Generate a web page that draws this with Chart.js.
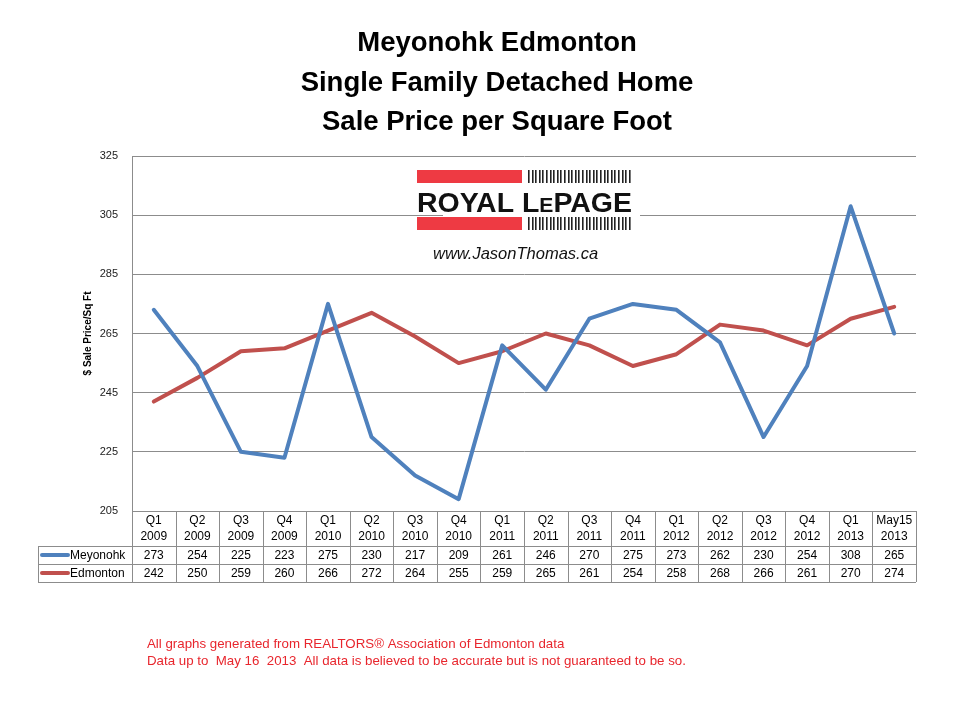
<!DOCTYPE html>
<html>
<head>
<meta charset="utf-8">
<script src="https://cdn.jsdelivr.net/npm/chart.js@4/dist/chart.umd.min.js"></script>
<style>
html,body{margin:0;padding:0;background:#fff;}
#wrap{width:960px;height:720px;position:relative;}
</style>
</head>
<body>
<div id="wrap"><canvas id="c" width="960" height="720"></canvas></div>
<script>
const quarterLabels = ["Q1","Q2","Q3","Q4","Q1","Q2","Q3","Q4","Q1","Q2","Q3","Q4","Q1","Q2","Q3","Q4","Q1","May15"];
const yearLabels = ["2009","2009","2009","2009","2010","2010","2010","2010","2011","2011","2011","2011","2012","2012","2012","2012","2013","2013"];
const meyonohk = [273,254,225,223,275,230,217,209,261,246,270,275,273,262,230,254,308,265];
const edmonton = [242,250,259,260,266,272,264,255,259,265,261,254,258,268,266,261,270,274];
const seriesNames = ["Meyonohk","Edmonton"];
const titleLines = ["Meyonohk Edmonton","Single Family Detached Home","Sale Price per Square Foot"];
const footerLines = ["All graphs generated from REALTORS\u00ae Association of Edmonton data","Data up to  May 16  2013  All data is believed to be accurate but is not guaranteed to be so."];
const yTitle = "$ Sale Price/Sq Ft";

const BLUE = "#4f81bd", RED = "#c0504d";
const labels = quarterLabels.map((q,i)=>[q, yearLabels[i]]);

const decorPlugin = {
  id: "decor",
  beforeDatasetsDraw(chart){
    const ctx = chart.ctx;
    ctx.save();
    ctx.fillStyle = "#fff";
    ctx.fillRect(443, 165, 197, 100);
    ctx.fillStyle = "#ee3a43";
    ctx.fillRect(417, 170, 105, 13);
    ctx.fillRect(417, 217, 105, 13);
    ctx.fillStyle = "#222";
    for (let x = 528; x < 632; x += 3.6) {
      ctx.fillRect(Math.round(x), 170, 1.6, 13);
      ctx.fillRect(Math.round(x), 217, 1.6, 13);
    }
    ctx.fillStyle = "#111";
    ctx.textBaseline = "alphabetic";
    const big = "bold 27px 'Liberation Sans', Arial, sans-serif";
    const small = "bold 20px 'Liberation Sans', Arial, sans-serif";
    ctx.font = big; const w1 = ctx.measureText("ROYAL L").width;
    ctx.font = small; const w2 = ctx.measureText("E").width;
    ctx.font = big; const w3 = ctx.measureText("PAGE").width;
    const total = w1 + w2 + w3;
    const sx = 215 / total;
    ctx.translate(417, 212);
    ctx.scale(sx, 1);
    ctx.font = big; ctx.fillText("ROYAL L", 0, 0);
    ctx.font = small; ctx.fillText("E", w1, 0);
    ctx.font = big; ctx.fillText("PAGE", w1 + w2, 0);
    ctx.setTransform(1,0,0,1,0,0);
    ctx.font = "italic 16.5px 'Liberation Sans', Arial, sans-serif";
    ctx.fillStyle = "#111";
    ctx.textAlign = "left";
    ctx.fillText("www.JasonThomas.ca", 433, 259);
    ctx.restore();
  },
  afterDraw(chart){
    const ctx = chart.ctx;
    const xs = chart.scales.x;
    const area = chart.chartArea;
    ctx.save();
    ctx.fillStyle = "#000";
    ctx.textAlign = "center";
    ctx.textBaseline = "middle";
    ctx.font = "bold 27.5px 'Liberation Sans', Arial, sans-serif";
    const ty = [43, 83, 122];
    titleLines.forEach((t,i)=>ctx.fillText(t, 497, ty[i]));

    const n = quarterLabels.length;
    const cw = (area.right - area.left) / n;
    const top = area.bottom;
    const hdrBottom = top + 35;
    const r1 = hdrBottom + 18, r2 = r1 + 18;
    const tableLeft = 38;
    ctx.strokeStyle = "#8c8c8c";
    ctx.lineWidth = 1;
    ctx.beginPath();
    for (let i = 0; i <= n; i++) {
      const x = Math.round(area.left + i * cw) + 0.5;
      ctx.moveTo(x, top); ctx.lineTo(x, r2);
    }
    ctx.moveTo(tableLeft + 0.5, hdrBottom); ctx.lineTo(tableLeft + 0.5, r2);
    [hdrBottom, r1, r2].forEach(y=>{ ctx.moveTo(tableLeft, Math.round(y)+0.5); ctx.lineTo(area.right, Math.round(y)+0.5); });
    ctx.stroke();

    ctx.fillStyle = "#000";
    ctx.font = "12px 'Liberation Sans', Arial, sans-serif";
    ctx.textAlign = "center";
    for (let i = 0; i < n; i++) {
      const cx = xs.getPixelForValue(i);
      ctx.fillText(quarterLabels[i], cx, top + 10);
      ctx.fillText(yearLabels[i], cx, top + 26);
      ctx.fillText(String(meyonohk[i]), cx, hdrBottom + 9.5);
      ctx.fillText(String(edmonton[i]), cx, r1 + 9.5);
    }
    const rows = [[hdrBottom, BLUE, seriesNames[0]], [r1, RED, seriesNames[1]]];
    rows.forEach(([y, col, name])=>{
      ctx.strokeStyle = col; ctx.lineWidth = 4; ctx.lineCap = "round";
      ctx.beginPath(); ctx.moveTo(42, y + 9); ctx.lineTo(68, y + 9); ctx.stroke();
      ctx.fillStyle = "#000"; ctx.textAlign = "left";
      ctx.fillText(name, 70, y + 9.5);
    });

    ctx.fillStyle = "#e8262d";
    ctx.textAlign = "left";
    ctx.font = "13.3px 'Liberation Sans', Arial, sans-serif";
    ctx.fillText(footerLines[0], 147, 644);
    ctx.fillText(footerLines[1], 147, 661);
    ctx.restore();
  }
};

new Chart(document.getElementById("c"), {
  type: "line",
  data: {
    labels: labels,
    datasets: [
      { label: seriesNames[0], data: meyonohk, borderColor: BLUE, backgroundColor: BLUE, borderWidth: 4, pointRadius: 0, tension: 0, borderJoinStyle: "round", borderCapStyle: "round" },
      { label: seriesNames[1], data: edmonton, borderColor: RED, backgroundColor: RED, borderWidth: 4, pointRadius: 0, tension: 0, borderJoinStyle: "round", borderCapStyle: "round" }
    ]
  },
  options: {
    responsive: false,
    animation: false,
    devicePixelRatio: 1,
    layout: { padding: { left: 70, right: 44, top: 156, bottom: 138 } },
    plugins: { legend: { display: false }, title: { display: false }, tooltip: { enabled: false } },
    scales: {
      x: {
        offset: true,
        grid: { display: false },
        border: { display: true, color: "#8c8c8c" },
        ticks: { display: false },
        afterFit(s){ s.height = 71; }
      },
      y: {
        min: 205, max: 325,
        ticks: { stepSize: 20, color: "#222", font: { family: "'Liberation Sans', Arial, sans-serif", size: 11 }, padding: 14 },
        grid: { color: "#8c8c8c", drawTicks: false, lineWidth: 1 },
        border: { display: true, color: "#8c8c8c" },
        title: { display: true, text: yTitle, color: "#000", font: { family: "'Liberation Sans', Arial, sans-serif", size: 10, weight: "bold" }, padding: { top: 12, bottom: 0 } },
        afterFit(s){ s.width = 62; }
      }
    }
  },
  plugins: [decorPlugin]
});
</script>
</body>
</html>
